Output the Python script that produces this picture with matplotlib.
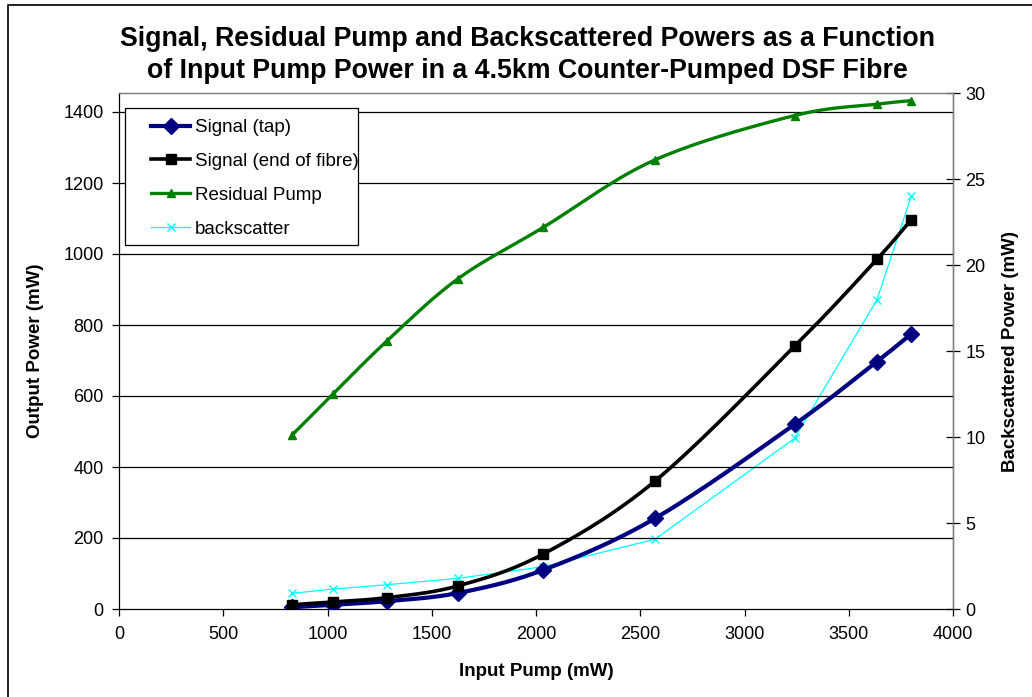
import numpy as np
import matplotlib
matplotlib.use("Agg")
import matplotlib.pyplot as plt
from matplotlib.lines import Line2D
from matplotlib.patches import Rectangle

plt.rcParams['font.family'] = ['Liberation Sans', 'DejaVu Sans']

# Input pump power (mW)
input_pump = [830, 1025, 1285, 1625, 2035, 2570, 3240, 3635, 3800]

# Output powers (mW, left axis)
signal_tap = [5, 12, 22, 45, 110, 255, 520, 697, 775]
signal_end = [12, 20, 32, 65, 155, 360, 740, 985, 1097]
residual_pump = [490, 605, 755, 930, 1075, 1265, 1390, 1422, 1432]

# Backscattered power (mW, right axis)
backscatter = [0.91, 1.16, 1.41, 1.78, 2.46, 4.05, 9.92, 17.97, 24.0]

title = ("Signal, Residual Pump and Backscattered Powers as a Function\n"
         "of Input Pump Power in a 4.5km Counter-Pumped DSF Fibre")


def smooth(x, y, n=30):
    """Excel-style smoothed line: cubic Bezier with Catmull-Rom control points."""
    x = np.asarray(x, float)
    y = np.asarray(y, float)
    px = np.concatenate([[x[0]], x, [x[-1]]])
    py = np.concatenate([[y[0]], y, [y[-1]]])
    xs, ys = [], []
    t = np.linspace(0, 1, n)
    for i in range(1, len(px) - 2):
        p0 = np.array([px[i], py[i]])
        p3 = np.array([px[i + 1], py[i + 1]])
        c1 = p0 + (np.array([px[i + 1], py[i + 1]]) - np.array([px[i - 1], py[i - 1]])) / 6
        c2 = p3 - (np.array([px[i + 2], py[i + 2]]) - np.array([px[i], py[i]])) / 6
        b = ((1 - t) ** 3)[:, None] * p0 + (3 * (1 - t) ** 2 * t)[:, None] * c1 \
            + (3 * (1 - t) * t ** 2)[:, None] * c2 + (t ** 3)[:, None] * p3
        xs.append(b[:, 0])
        ys.append(b[:, 1])
    return np.concatenate(xs), np.concatenate(ys)


W, H = 1032, 697
L, R, T, B = 119, 953, 93, 609          # plot area in pixels
fig = plt.figure(figsize=(W / 100, H / 100), dpi=100)
ax = fig.add_axes([L / W, 1 - B / H, (R - L) / W, (B - T) / H])
ax2 = ax.twinx()


def ax_frac(px, py):
    return (px - L) / (R - L), (B - py) / (B - T)


ax.set_xlim(0, 4000)
ax.set_ylim(0, 1400 * (B - T) / (B - 112))
ax2.set_ylim(0, 30)

for v in range(200, 1401, 200):
    ax.axhline(v, color='black', lw=0.9, zorder=0)

series = [
    (signal_tap, '#000080', 'D', 8.5, 3.0, 'Signal (tap)'),
    (signal_end, 'black', 's', 6.5, 2.6, 'Signal (end of fibre)'),
    (residual_pump, '#008000', '^', 6.0, 2.4, 'Residual Pump'),
]
handles = []
for ys, col, mk, ms, lw, lab in series:
    sx, sy = smooth(input_pump, ys)
    ax.plot(sx, sy, color=col, lw=lw, zorder=3, solid_capstyle='round')
    ax.plot(input_pump, ys, ls='none', marker=mk, ms=ms, color=col, zorder=4)
    h, = ax.plot([], [], color=col, lw=lw, marker=mk, ms=ms, label=lab)
    handles.append(h)

ax2.plot(input_pump, backscatter, color='#00FFFF', lw=0.9, marker='x', ms=6,
         mew=1.0, zorder=3)
hb, = ax.plot([], [], color='#00FFFF', lw=0.9, marker='x', ms=6, mew=1.0,
              label='backscatter')
handles.append(hb)
ax.set_zorder(ax2.get_zorder() + 1)
ax.patch.set_visible(False)

ax.set_xticks(range(0, 4001, 500))
ax.set_yticks(range(0, 1401, 200))
ax2.set_yticks(range(0, 31, 5))
ax.tick_params(axis='both', direction='out', length=5, width=0.9,
               labelsize=13, colors='black')
ax.tick_params(axis='x', pad=7)
ax.tick_params(axis='y', pad=6)
ax2.tick_params(axis='y', direction='inout', length=10, width=0.9,
                labelsize=13, pad=4)

for a in (ax, ax2):
    for s in a.spines.values():
        s.set_color('#808080')
        s.set_linewidth(0.9)
ax.spines['left'].set_color('black')
ax.spines['bottom'].set_color('black')
ax2.spines['right'].set_color('black')
ax2.spines['left'].set_visible(False)
ax2.spines['bottom'].set_visible(False)

ax.set_xlabel('Input Pump (mW)', fontsize=13.5, fontweight='bold', labelpad=15)
ax.set_ylabel('Output Power (mW)', fontsize=13.5, fontweight='bold', labelpad=14)
ax2.set_ylabel('Backscattered Power (mW)', fontsize=13.5, fontweight='bold',
               labelpad=12)

fig.text(527 / W, 1 - 55 / H, title, ha='center', va='center',
         fontsize=19.3, fontweight='bold', linespacing=1.3)

# legend box drawn separately so its padding can be set exactly
x0, y1 = ax_frac(125, 245)
x1, y0 = ax_frac(358, 108)
ax.add_patch(Rectangle((x0, y1), x1 - x0, y0 - y1, transform=ax.transAxes,
                       facecolor='white', edgecolor='black', lw=0.9,
                       zorder=5, clip_on=False))
leg = ax.legend(handles=handles, loc='upper left',
                bbox_to_anchor=ax_frac(151, 119),
                fontsize=13.5, frameon=False, handlelength=2.08,
                borderpad=0, labelspacing=0.89, handletextpad=0.27,
                borderaxespad=0)
leg.set_zorder(6)

# chart frame: only the left and top edges fall inside the image
fig.add_artist(Line2D([7.5 / W, 7.5 / W, 1.0], [0.0, 1 - 4.5 / H, 1 - 4.5 / H],
                      transform=fig.transFigure, color='#222222', lw=1.4))

fig.savefig('out.png', dpi=100)
